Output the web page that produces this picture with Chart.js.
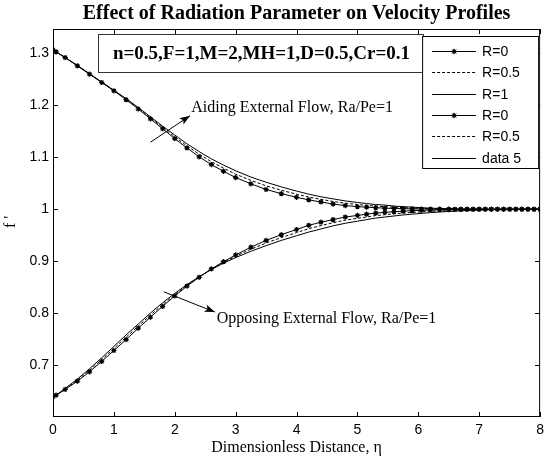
<!DOCTYPE html>
<html>
<head>
<meta charset="utf-8">
<script src="https://cdn.jsdelivr.net/npm/chart.js@4.4.1/dist/chart.umd.min.js"></script>
<style>
  html, body { margin: 0; padding: 0; background: #fff; }
  #wrap { width: 549px; height: 461px; }
</style>
</head>
<body>
<div id="wrap"><canvas id="profileChart" width="549" height="461"></canvas></div>
<script>
// similarity variable (solver mesh points)
const eta = [0, 0.05, 0.2, 0.4, 0.6, 0.8, 1.0, 1.2, 1.4, 1.6, 1.8, 2.0, 2.2, 2.4, 2.6, 2.8, 3.0,
  3.25, 3.5, 3.75, 4.0, 4.2, 4.4, 4.6, 4.8, 5.0,
  5.15, 5.3, 5.45, 5.6, 5.75, 5.9, 6.05, 6.2, 6.35, 6.5,
  6.6, 6.7, 6.8, 6.9, 7.0, 7.1, 7.2, 7.3, 7.4, 7.5, 7.6, 7.7, 7.8, 7.9, 8.0];

// aiding external flow
const aidR0 = [1.307, 1.303, 1.292, 1.276, 1.260, 1.244, 1.228, 1.211, 1.193, 1.174, 1.155, 1.136, 1.118, 1.101, 1.086, 1.073, 1.061,
  1.049, 1.038, 1.030, 1.023, 1.018, 1.014, 1.010, 1.007, 1.005,
  1.004, 1.003, 1.002, 1.0015, 1.001, 1.0007, 1.0005, 1.0003, 1.0002, 1.0001,
  1, 1, 1, 1, 1, 1, 1, 1, 1, 1, 1, 1, 1, 1, 1];
const aidR05 = [1.307, 1.303, 1.292, 1.2765, 1.2605, 1.2445, 1.2285, 1.212, 1.1945, 1.176, 1.1575, 1.1395, 1.122, 1.106, 1.0915, 1.079, 1.0675,
  1.0555, 1.045, 1.0365, 1.029, 1.0235, 1.019, 1.015, 1.0115, 1.009,
  1.0075, 1.006, 1.005, 1.0038, 1.003, 1.0023, 1.0017, 1.0012, 1.0008, 1.0005,
  1.0004, 1.0003, 1.0002, 1.0001, 1, 1, 1, 1, 1, 1, 1, 1, 1, 1, 1];
const aidR1 = [1.307, 1.303, 1.292, 1.277, 1.261, 1.245, 1.229, 1.213, 1.196, 1.178, 1.160, 1.143, 1.126, 1.111, 1.097, 1.085, 1.074,
  1.062, 1.052, 1.043, 1.035, 1.029, 1.024, 1.020, 1.016, 1.013,
  1.011, 1.009, 1.008, 1.006, 1.005, 1.004, 1.003, 1.002, 1.0015, 1.001,
  1.0007, 1.0005, 1.0003, 1.0002, 1.0001, 1, 1, 1, 1, 1, 1, 1, 1, 1, 1];

// opposing external flow
const oppR0 = [0.639, 0.642, 0.653, 0.669, 0.687, 0.707, 0.728, 0.749, 0.771, 0.792, 0.813, 0.833, 0.852, 0.869, 0.885, 0.899, 0.912,
  0.927, 0.940, 0.951, 0.961, 0.969, 0.975, 0.980, 0.985, 0.988,
  0.9905, 0.9925, 0.994, 0.9953, 0.9963, 0.9972, 0.9979, 0.9985, 0.999, 0.9993,
  0.9995, 0.9997, 0.9998, 0.9999, 1, 1, 1, 1, 1, 1, 1, 1, 1, 1, 1];
const oppR05 = [0.639, 0.642, 0.654, 0.671, 0.690, 0.7105, 0.732, 0.7535, 0.775, 0.796, 0.8165, 0.8355, 0.8535, 0.8695, 0.8845, 0.8975, 0.9095,
  0.923, 0.935, 0.9455, 0.955, 0.9625, 0.9685, 0.974, 0.979, 0.9825,
  0.985, 0.9878, 0.9895, 0.9912, 0.9927, 0.9938, 0.995, 0.996, 0.9968, 0.9975,
  0.9979, 0.9983, 0.9987, 0.999, 0.9992, 0.9994, 0.9995, 0.9996, 0.9997, 0.9998, 0.9998, 0.9999, 0.9999, 1, 1];
const oppR1 = [0.639, 0.642, 0.655, 0.673, 0.693, 0.714, 0.736, 0.758, 0.779, 0.800, 0.820, 0.838, 0.855, 0.870, 0.884, 0.896, 0.907,
  0.919, 0.930, 0.940, 0.949, 0.956, 0.962, 0.968, 0.973, 0.977,
  0.980, 0.983, 0.985, 0.987, 0.989, 0.9905, 0.992, 0.9935, 0.9947, 0.9957,
  0.9963, 0.997, 0.9975, 0.998, 0.9985, 0.9988, 0.9991, 0.9993, 0.9995, 0.9996, 0.9997, 0.9998, 0.9999, 1, 1];

const seriesLabels = ['R=0', 'R=0.5', 'R=1', 'R=0', 'R=0.5', 'data 5'];
const xTicks = [0, 1, 2, 3, 4, 5, 6, 7, 8];
const yTicks = [0.7, 0.8, 0.9, 1.0, 1.1, 1.2, 1.3];

const serif = '"Liberation Serif", "Times New Roman", serif';
const sans = '"Liberation Sans", Arial, sans-serif';

function pts(ys) {
  return eta.map((x, i) => ({ x: x, y: ys[i] }));
}

function makeSet(label, ys, kind) {
  const ds = {
    label: label,
    data: pts(ys),
    borderColor: '#000',
    backgroundColor: '#000',
    borderWidth: 1,
    pointRadius: 0,
    tension: 0
  };
  if (kind === 'marker') {
    ds.pointStyle = 'star';
    ds.pointRadius = 2.6;
    ds.pointBorderWidth = 1.2;
  }
  if (kind === 'dash') ds.borderDash = [3, 2];
  return ds;
}

// axes box, inward ticks, legend and text annotations
const matlabDecor = {
  id: 'matlabDecor',
  afterDatasetsDraw(chart) {
    const ctx = chart.ctx;
    const a = chart.chartArea;
    const xs = chart.scales.x, ys = chart.scales.y;
    ctx.save();

    // frame
    ctx.strokeStyle = '#000';
    ctx.lineWidth = 1;
    ctx.strokeRect(a.left + 0.5, a.top + 0.5, a.right - a.left - 1, a.bottom - a.top - 1);

    ctx.beginPath();
    xTicks.forEach(v => {
      const px = Math.round(xs.getPixelForValue(v)) + 0.5;
      ctx.moveTo(px, a.bottom); ctx.lineTo(px, a.bottom - 5);
      ctx.moveTo(px, a.top); ctx.lineTo(px, a.top + 5);
    });
    yTicks.forEach(v => {
      const py = Math.round(ys.getPixelForValue(v)) + 0.5;
      ctx.moveTo(a.left, py); ctx.lineTo(a.left + 5, py);
      ctx.moveTo(a.right, py); ctx.lineTo(a.right - 5, py);
    });
    ctx.stroke();

    // parameter box
    const bx = 98, by = 34, bw = 325, bh = 38;
    ctx.fillStyle = '#fff';
    ctx.fillRect(bx, by, bw, bh);
    ctx.strokeStyle = '#333';
    ctx.strokeRect(bx + 0.5, by + 0.5, bw, bh);
    ctx.fillStyle = '#000';
    ctx.font = 'bold 19px ' + serif;
    ctx.textAlign = 'center';
    ctx.textBaseline = 'middle';
    ctx.fillText('n=0.5,F=1,M=2,MH=1,D=0.5,Cr=0.1', bx + bw / 2 + 1, by + bh / 2 + 1);

    // arrows with labels
    function arrow(x0, y0, x1, y1) {
      const p0x = xs.getPixelForValue(x0), p0y = ys.getPixelForValue(y0);
      const p1x = xs.getPixelForValue(x1), p1y = ys.getPixelForValue(y1);
      const ang = Math.atan2(p1y - p0y, p1x - p0x);
      ctx.beginPath();
      ctx.moveTo(p0x, p0y); ctx.lineTo(p1x, p1y);
      ctx.stroke();
      ctx.beginPath();
      ctx.moveTo(p1x, p1y);
      ctx.lineTo(p1x - 11 * Math.cos(ang - 0.35), p1y - 11 * Math.sin(ang - 0.35));
      ctx.lineTo(p1x - 8 * Math.cos(ang), p1y - 8 * Math.sin(ang));
      ctx.lineTo(p1x - 11 * Math.cos(ang + 0.35), p1y - 11 * Math.sin(ang + 0.35));
      ctx.closePath();
      ctx.fill();
    }
    ctx.strokeStyle = '#000';
    ctx.lineWidth = 1;
    arrow(1.60, 1.129, 2.25, 1.180);
    arrow(1.82, 0.841, 2.66, 0.802);
    ctx.font = '16px ' + serif;
    ctx.textAlign = 'left';
    ctx.fillText('Aiding External Flow, Ra/Pe=1', xs.getPixelForValue(2.27), ys.getPixelForValue(1.196));
    ctx.fillText('Opposing External Flow, Ra/Pe=1', xs.getPixelForValue(2.69), ys.getPixelForValue(0.790));

    // legend
    const lr = a.right - 1, lw = 117, lt = 36, lh = 132;
    const ll = lr - lw;
    ctx.fillStyle = '#fff';
    ctx.fillRect(ll, lt, lw, lh);
    ctx.strokeStyle = '#000';
    ctx.strokeRect(ll + 0.5, lt + 0.5, lw - 1, lh);
    ctx.font = '14px ' + sans;
    ctx.textBaseline = 'middle';
    chart.data.datasets.forEach((ds, i) => {
      const y = Math.round(lt + 15 + i * 21.3) + 0.5;
      ctx.beginPath();
      ctx.setLineDash(ds.borderDash || []);
      ctx.strokeStyle = '#000';
      ctx.moveTo(ll + 10, y); ctx.lineTo(ll + 54, y);
      ctx.stroke();
      ctx.setLineDash([]);
      if (ds.pointStyle) {
        Chart.helpers.drawPoint(ctx, { pointStyle: ds.pointStyle, radius: 2.6, borderWidth: 1.2, rotation: 0 }, ll + 32, y);
        ctx.stroke();
      }
      ctx.fillStyle = '#000';
      ctx.fillText(seriesLabels[i], ll + 60, y + 1);
    });

    // title and axis labels
    ctx.font = 'bold 20px ' + serif;
    ctx.textAlign = 'center';
    ctx.fillText('Effect of Radiation Parameter on Velocity Profiles', (a.left + a.right) / 2, 14);
    ctx.font = '16px ' + serif;
    ctx.fillText('Dimensionless Distance, \u03b7', (a.left + a.right) / 2, 448);
    ctx.translate(11, 222);
    ctx.rotate(-Math.PI / 2);
    ctx.fillText("f '", 0, 0);
    ctx.restore();
  }
};

const chart = new Chart(document.getElementById('profileChart'), {
  type: 'line',
  data: {
    datasets: [
      makeSet(seriesLabels[0], aidR0, 'marker'),
      makeSet(seriesLabels[1], aidR05, 'dash'),
      makeSet(seriesLabels[2], aidR1, 'solid'),
      makeSet(seriesLabels[3], oppR0, 'marker'),
      makeSet(seriesLabels[4], oppR05, 'dash'),
      makeSet(seriesLabels[5], oppR1, 'solid')
    ]
  },
  options: {
    responsive: false,
    animation: false,
    layout: { padding: { top: 29, right: 5, left: 0, bottom: 0 } },
    plugins: {
      legend: { display: false },
      title: { display: false },
      tooltip: { enabled: false }
    },
    scales: {
      x: {
        type: 'linear',
        min: 0, max: 8,
        grid: { display: false, drawTicks: false },
        border: { display: false },
        afterBuildTicks: s => { s.ticks = xTicks.map(v => ({ value: v })); },
        afterFit: s => { s.height = 44; },
        ticks: { color: '#000', font: { family: sans, size: 14 }, padding: 5, maxRotation: 0 }
      },
      y: {
        type: 'linear',
        min: 0.6, max: 1.347,
        grid: { display: false, drawTicks: false },
        border: { display: false },
        afterBuildTicks: s => { s.ticks = yTicks.map(v => ({ value: v })); },
        afterFit: s => { s.width = 53; },
        ticks: { color: '#000', font: { family: sans, size: 14 }, padding: 4,
          callback: v => (Math.abs(v - 1) < 1e-9 ? '1' : v.toFixed(1)) }
      }
    }
  },
  plugins: [matlabDecor]
});
</script>
</body>
</html>
